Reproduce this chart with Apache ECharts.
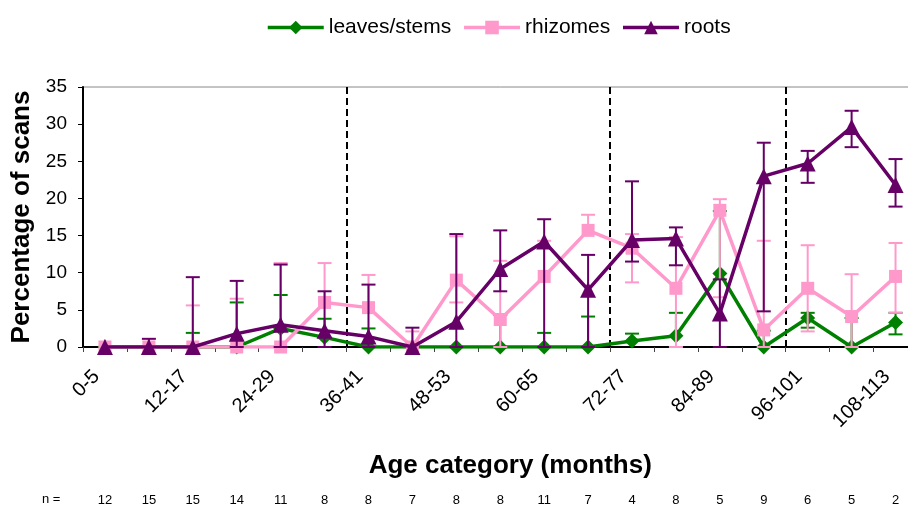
<!DOCTYPE html>
<html>
<head>
<meta charset="utf-8">
<script src="https://cdn.jsdelivr.net/npm/echarts@6/dist/echarts.min.js"></script>
<style>
html,body{margin:0;padding:0;background:#fff;overflow:hidden;width:908px;height:509px;}
#chart{width:918px;height:509px;}
</style>
</head>
<body>
<div id="chart"></div>
<script>
// ---- data ----
var categories = ['0-5','6-11','12-17','18-23','24-29','30-35','36-41','42-47','48-53','54-59','60-65','66-71','72-77','78-83','84-89','90-95','96-101','102-107','108-113'];
var nValues = [12,15,15,14,11,8,8,7,8,8,11,7,4,8,5,9,6,5,2];
var dividers = [6, 12, 16]; // category index where a new age period begins

var leaves   = [0,0,0,0,2.5,1.3,0,0,0,0,0,0,0.8,1.5,9.9,0,3.9,0,3.3];
var leavesHi = [null,null,1.9,6.0,7.0,3.8,2.5,null,null,4.3,1.9,4.1,1.8,4.6,18.3,2.2,4.6,3.9,4.6];
var leavesLo = [null,null,null,null,null,null,null,null,null,null,null,null,null,null,null,null,2.6,null,1.7];

var rhizomes = [0,0,0,0,0,6.0,5.3,0,9.0,3.7,9.5,15.7,13.3,7.9,18.4,2.3,7.9,4.1,9.5];
var rhizHi   = [null,null,5.6,6.5,11.3,11.3,9.7,2.1,14.9,11.6,14.3,17.8,15.2,14.8,19.9,14.3,13.7,9.8,14.0];
var rhizLo   = [null,null,null,null,null,null,null,null,6.0,0,null,null,8.7,0,6.7,0,2.1,0,4.6];

var roots    = [0,0,0,1.8,3.0,2.2,1.4,0,3.4,10.5,14.2,7.7,14.4,14.6,4.5,23.0,24.7,29.6,21.8];
var rootsHi  = [null,1.1,9.4,8.9,11.1,7.5,8.4,2.6,15.2,15.7,17.2,12.4,22.3,16.1,9.1,27.5,26.4,31.8,25.3];
var rootsLo  = [null,null,null,0,0,0,0,null,0,7.5,0,0,11.5,11.0,0,4.8,22.1,26.9,18.9];

var yTicks = {min: 0, max: 35, interval: 5};

// ---- helpers ----
function errData(vals, lo, hi) {
  var out = [];
  for (var i = 0; i < vals.length; i++) {
    if (hi[i] == null && lo[i] == null) continue;
    out.push([i, lo[i] == null ? vals[i] : lo[i], hi[i] == null ? vals[i] : hi[i], vals[i]]);
  }
  return out;
}
function errRender(color) {
  return function (params, api) {
    var i = api.value(0), lo = api.value(1), hi = api.value(2), v = api.value(3);
    var pLo = api.coord([i, lo]), pHi = api.coord([i, hi]);
    var x = pLo[0], hw = 7;
    var ch = [{type: 'line', shape: {x1: x, y1: pLo[1], x2: x, y2: pHi[1]}, style: {stroke: color, lineWidth: 2}}];
    if (hi !== v) ch.push({type: 'line', shape: {x1: x - hw, y1: pHi[1], x2: x + hw, y2: pHi[1]}, style: {stroke: color, lineWidth: 2}});
    if (lo !== v) ch.push({type: 'line', shape: {x1: x - hw, y1: pLo[1], x2: x + hw, y2: pLo[1]}, style: {stroke: color, lineWidth: 2}});
    return {type: 'group', children: ch};
  };
}

var GREEN = '#008000', PINK = '#FF99CC', PURPLE = '#660066';
var FONT = '"Liberation Sans", Arial, sans-serif';

function lineSeries(name, data, color, symbol, size, z) {
  return {
    name: name, type: 'line', data: data, z: z,
    symbol: symbol, symbolSize: size, showSymbol: true,
    lineStyle: {color: color, width: 3.5},
    itemStyle: {color: color},
    emphasis: {disabled: true}
  };
}
function errSeries(name, vals, lo, hi, color, z) {
  return {
    name: name, type: 'custom', z: z, data: errData(vals, lo, hi),
    renderItem: errRender(color), silent: true
  };
}

var chart = echarts.init(document.getElementById('chart'), null, {renderer: 'canvas'});
chart.setOption({
  animation: false,
  backgroundColor: '#fff',
  textStyle: {fontFamily: FONT},
  legend: {
    data: ['leaves/stems', 'rhizomes', 'roots'],
    top: 12, left: 261,
    itemWidth: 56, itemHeight: 17, itemGap: 11,
    lineStyle: {width: 3.5},
    textStyle: {fontSize: 21, color: '#000', fontFamily: FONT}
  },
  graphic: [{
    type: 'text', left: 42, top: 493,
    style: {text: 'n =', fontSize: 13, fill: '#000', fontFamily: FONT}
  }],
  grid: {
    left: 83, right: 0.5, top: 87, bottom: 162,
    show: true, borderColor: '#888', borderWidth: 1, backgroundColor: 'transparent'
  },
  xAxis: [{
    type: 'category', data: categories, boundaryGap: true,
    name: 'Age category (months)', nameLocation: 'middle', nameGap: 106,
    nameTextStyle: {fontSize: 26, fontWeight: 'bold', color: '#000', padding: [0, 0, 0, 20], fontFamily: FONT},
    axisLine: {show: true, onZero: false, lineStyle: {color: '#000', width: 2}},
    axisTick: {show: true, interval: 0, length: 5, lineStyle: {color: '#444', width: 1}},
    axisLabel: {interval: 1, rotate: 45, fontSize: 20, color: '#000', margin: 18, padding: [0, 12, 0, 0], fontFamily: FONT},
    splitLine: {
      show: true,
      interval: function (idx) { return dividers.indexOf(idx) >= 0; },
      lineStyle: {color: '#000', width: 2, type: [7, 4]}
    }
  }, {
    type: 'category', data: categories, position: 'bottom', offset: 153,
    axisLine: {show: false}, axisTick: {show: false}, splitLine: {show: false},
    axisLabel: {interval: 0, fontSize: 13, color: '#000', margin: 0, verticalAlign: 'middle', fontFamily: FONT,
      formatter: function (v, idx) { return String(nValues[idx]); }}
  }],
  yAxis: {
    type: 'value', min: yTicks.min, max: yTicks.max, interval: yTicks.interval,
    name: 'Percentage of scans', nameLocation: 'middle', nameGap: 47,
    nameTextStyle: {fontSize: 26, fontWeight: 'bold', color: '#000', fontFamily: FONT},
    axisLine: {show: true, lineStyle: {color: '#000', width: 2}},
    axisTick: {show: true, length: 5, lineStyle: {color: '#000', width: 1}},
    axisLabel: {fontSize: 19, color: '#000', margin: 16, fontFamily: FONT},
    splitLine: {show: false}
  },
  series: [
    errSeries('leaves err', leaves, leavesLo, leavesHi, GREEN, 2),
    lineSeries('leaves/stems', leaves, GREEN, 'diamond', 15, 3),
    errSeries('rhizomes err', rhizomes, rhizLo, rhizHi, PINK, 4),
    lineSeries('rhizomes', rhizomes, PINK, 'rect', 13, 5),
    errSeries('roots err', roots, rootsLo, rootsHi, PURPLE, 6),
    lineSeries('roots', roots, PURPLE, 'triangle', 16, 7)
  ]
});
</script>
</body>
</html>
